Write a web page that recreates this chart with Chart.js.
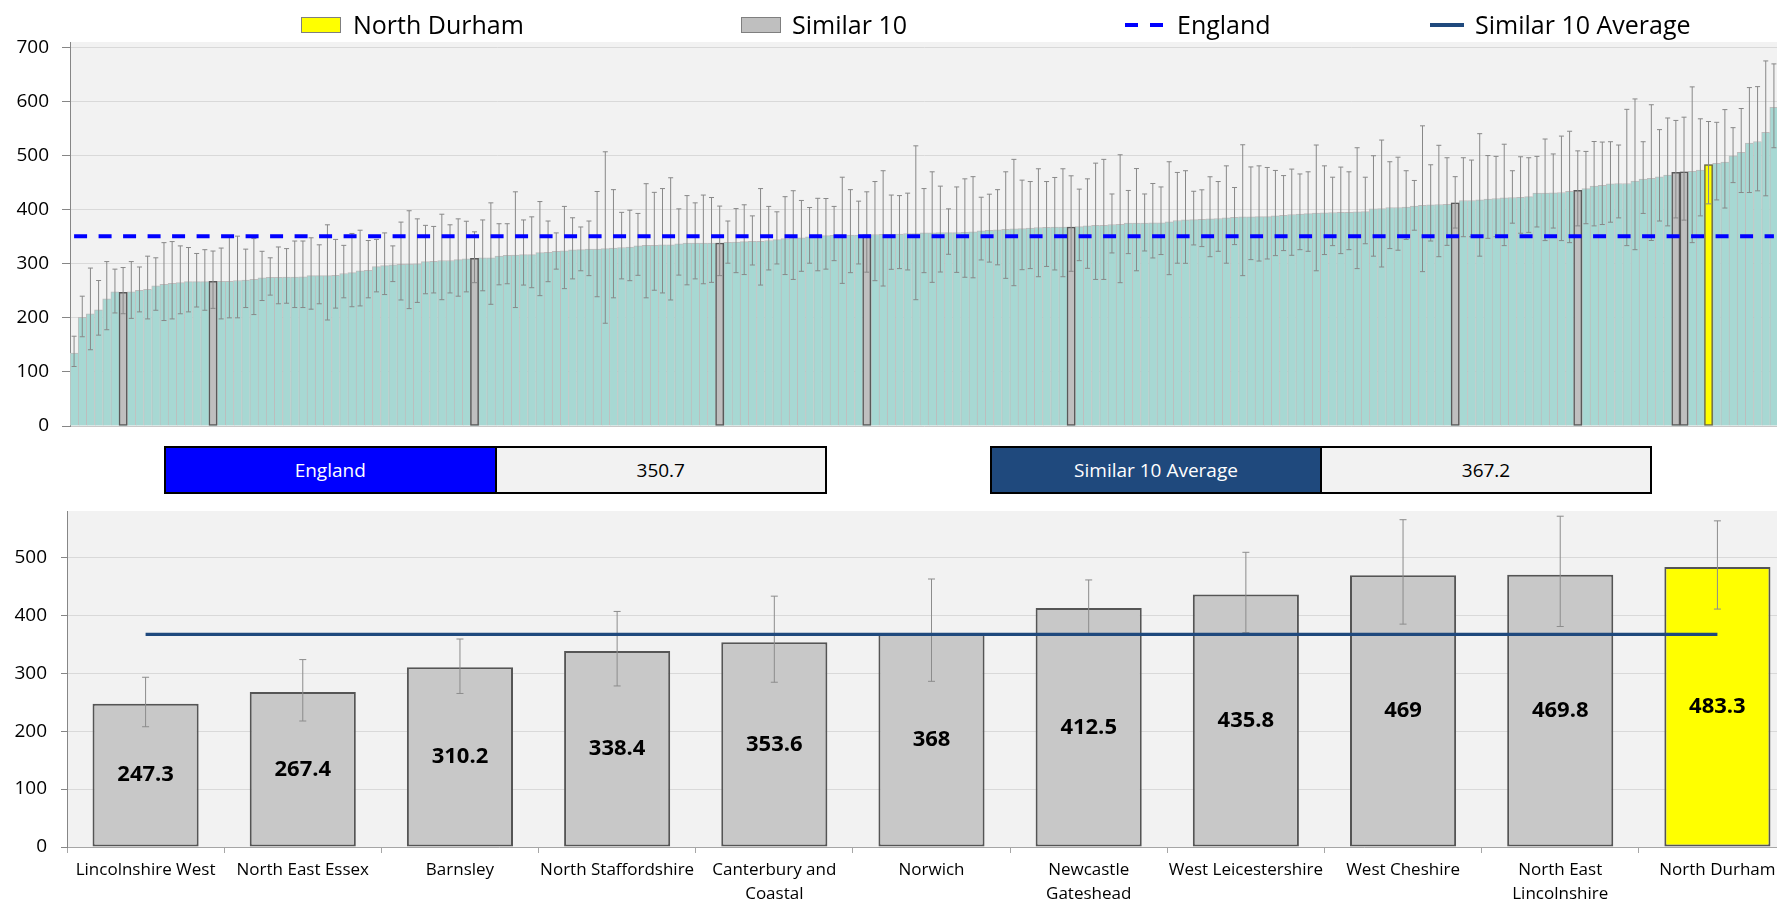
<!DOCTYPE html>
<html>
<head>
<meta charset="utf-8">
<script src="https://cdn.jsdelivr.net/npm/chart.js@4.4.0/dist/chart.umd.min.js"></script>
<style>
  html, body { margin: 0; padding: 0; background: #fff; overflow: hidden; width: 1777px; height: 902px; }
  body { position: relative; font-family: "Open Sans", sans-serif; color: #000; }
  #topWrap { position: absolute; left: 0; top: 0; width: 1778px; height: 446px; }
  #bottomWrap { position: absolute; left: 0; top: 500px; width: 1796px; height: 402px; }
  .lg-text { position: absolute; top: 7px; font-size: 25px; line-height: 34px; white-space: nowrap; }
  .lg-box { position: absolute; top: 17px; width: 40px; height: 16px; box-sizing: border-box; border: 1px solid #7f7f7f; }
  .lg-line { position: absolute; top: 23px; height: 4px; }
  .vbox { position: absolute; top: 446px; height: 48px; box-sizing: border-box; border: 2px solid #000; display: flex; }
  .vbox div { flex: 1; display: flex; align-items: center; justify-content: center; font-size: 19px; }
  .vbox .name { color: #fff; border-right: 2px solid #000; }
  .vbox .val { background: #f2f2f2; }
</style>
</head>
<body>
<div id="topWrap"><canvas id="rankChart"></canvas></div>
<div id="bottomWrap"><canvas id="similarChart"></canvas></div>

<div class="lg-box" style="left:301px; background:#ffff00;"></div>
<div class="lg-text" style="left:353px;">North Durham</div>
<div class="lg-box" style="left:741px; background:#bfbfbf;"></div>
<div class="lg-text" style="left:792px;">Similar 10</div>
<div class="lg-line" style="left:1125px; width:13px; background:#0000ff;"></div>
<div class="lg-line" style="left:1150px; width:13px; background:#0000ff;"></div>
<div class="lg-text" style="left:1177px;">England</div>
<div class="lg-line" style="left:1430px; width:34px; background:#1f497d;"></div>
<div class="lg-text" style="left:1475px;">Similar 10 Average</div>

<div class="vbox" style="left:164px; width:663px;">
  <div class="name" style="background:#0000ff;">England</div>
  <div class="val" id="englandVal"></div>
</div>
<div class="vbox" style="left:990px; width:662px;">
  <div class="name" style="background:#1f497d;">Similar 10 Average</div>
  <div class="val" id="similarVal"></div>
</div>

<script>
// all CCGs, sorted by rate
const allValues = [
  135, 200.7, 207.5, 215, 235, 248, 247.3, 248, 251, 252.6, 259, 262, 264, 265, 267, 267, 267, 267.4, 267.5, 267.5,
  269, 270, 271, 274, 275, 275, 275.5, 275.5, 276, 278, 278, 278, 278.5, 282, 283.5, 287, 288, 294.6, 296.5, 298,
  299, 299.6, 300, 304, 304.5, 306, 306, 307.6, 309, 310.2, 311, 311, 314, 315.6, 316, 317, 317, 320.6, 321, 323,
  324, 325.5, 326, 327, 327, 328, 329, 330, 331, 333, 334, 334, 335, 335, 337, 338, 338, 338, 338.2, 338.4,
  339.7, 340, 341, 341.6, 341.6, 343, 344.7, 346.5, 347.7, 348, 349.6, 351, 352, 352.7, 353, 353, 353.2, 353.6, 354, 354.5,
  354.5, 355, 356, 356, 357, 357, 357.6, 357.6, 357.6, 358, 359, 361, 362, 362.6, 363.8, 364.4, 365, 366, 367, 367.5,
  367.6, 367.8, 368, 368.7, 370, 371, 371, 372.5, 373, 375, 375, 375, 375.5, 375.5, 377.4, 380, 381, 381.7, 382, 383,
  383.6, 384.8, 386, 386.7, 386.7, 387, 387, 388.5, 389.7, 391, 392, 392.8, 393.5, 394, 394.7, 395, 395, 396, 396.5, 401.5,
  402, 404, 404, 405, 406.4, 408, 409, 409.5, 410, 412.5, 417, 417, 418, 419.4, 420.6, 421.9, 422.5, 423, 424, 430.5,
  430.5, 431, 431.7, 434, 435.8, 439, 443.5, 445, 447.8, 448.4, 448.4, 453, 456.5, 458, 460.8, 463.9, 469, 469.8, 471, 473,
  483.3, 485.5, 488, 499.7, 506, 523, 526, 543, 589
];
const allLower = [
  110, 165, 141, 168, 178, 209, 207.6, 199, 211, 198, 214, 195, 198, 207.5, 211, 220, 214, 217.5, 198, 200,
  200, 219, 206, 232, 242, 226, 227, 219, 219, 216, 226, 196, 218, 237, 220.5, 222, 237, 248, 243, 267,
  233, 217, 228.5, 244.5, 246, 233.5, 246, 240, 248, 265, 250, 225, 261, 263, 219, 260.6, 255.7, 241, 266.8, 290,
  254, 272, 287, 278, 239, 190, 237, 272, 268.7, 278.6, 237, 251, 246, 233, 279, 261, 272, 263, 265.6, 278,
  301, 283.5, 280, 297.7, 260.6, 288.5, 299.6, 280, 271, 286, 301, 287, 290, 305.7, 263.7, 283.5, 299.6, 284.4, 268.7, 258.8,
  289.7, 291, 288.5, 233.5, 283.5, 265.6, 284.7, 317.5, 284, 275, 274, 307, 303, 298, 273, 259.4, 289, 291, 276, 295,
  288.5, 276, 286, 305.7, 291.5, 271, 271, 320, 265, 318.7, 287, 323.6, 310.7, 317, 279.8, 301, 300.8, 334.8, 331.7, 313,
  323, 301, 335.4, 278, 307.6, 305, 308.8, 315, 324.3, 315.6, 326, 323, 287, 317, 333.5, 318.7, 326, 291, 337, 314,
  294, 328, 325, 345, 362, 285.4, 342, 313, 334, 366, 350, 350, 314, 347, 350, 333.5, 375, 356.4, 358, 368,
  342.8, 366, 342.8, 339, 370, 374, 370, 372.5, 376.8, 384.8, 333.5, 326, 393, 343, 379, 370, 384.7, 380.6, 339, 388.5,
  410.7, 418, 403, 450, 431.7, 431.7, 434.8, 425.6, 514.5
];
const allUpper = [
  166, 240, 292, 269, 304, 290, 293, 304, 294, 314, 311, 339, 341, 333, 330, 319, 326, 323.5, 329, 351,
  351, 327, 346.5, 323, 311, 331, 328, 342, 342, 348, 335, 372, 345, 334, 356, 362, 343, 345, 357, 333,
  377, 398, 383, 371, 369, 391.6, 372, 383, 378.6, 359, 381, 412.6, 374, 374, 433, 381, 386.7, 415, 379, 357,
  406, 385, 368, 379, 433.6, 507, 437, 395, 399, 393, 448, 432, 439, 459, 401.5, 426, 412.6, 427, 422.5, 406.6,
  379, 402, 409, 388.5, 439, 406, 396, 424, 435, 417, 404, 421, 420.6, 406, 460, 437, 415.7, 433, 452, 472,
  427, 426, 430.5, 518, 439, 470, 443.5, 401.5, 442, 457, 461, 423, 428.6, 437, 470, 493, 454.6, 452, 475.6, 452,
  459.5, 475.6, 462.6, 438, 457, 486, 493, 429, 501.5, 435.5, 476, 429, 448.4, 442, 488.6, 468.8, 472, 434, 436.7, 460.8,
  452, 481, 441, 520, 479, 481, 478, 472.5, 463, 475, 466, 470, 519.5, 481, 460, 478.7, 470, 514.5, 460, 499.7,
  528.7, 488.6, 497, 472, 454, 555, 483, 519, 496, 461, 496, 491.7, 540.5, 500, 498.5, 521, 472, 497.8, 496, 498.5,
  530.6, 503, 536, 545, 508.7, 507.7, 526, 525, 525.6, 519.5, 585.5, 604.7, 525.6, 594, 548, 569.5, 565, 571, 627, 568,
  563, 561.5, 585, 551.6, 587, 625.7, 627.5, 675, 669.5
];
const rankTicks = [0, 100, 200, 300, 400, 500, 600, 700];

// the similar 10 plus North Durham
const similarLabels = ['Lincolnshire West', 'North East Essex', 'Barnsley', 'North Staffordshire',
  ['Canterbury and', 'Coastal'], 'Norwich', ['Newcastle', 'Gateshead'], 'West Leicestershire',
  'West Cheshire', ['North East', 'Lincolnshire'], 'North Durham'];
const similarValues = [247.3, 267.4, 310.2, 338.4, 353.6, 368, 412.5, 435.8, 469, 469.8, 483.3];
const similarLower = [207.6, 217.5, 265, 278, 284.4, 286, 366, 370, 384.7, 380.6, 410.7];
const similarUpper = [293, 323.5, 359, 406.6, 433, 462.6, 461, 508.7, 565, 571, 563];
const similarRanks = [6, 17, 49, 79, 97, 122, 169, 184, 196, 197, 200];
const similarTicks = [0, 100, 200, 300, 400, 500];

const homeName = 'North Durham';
const englandValue = 350.7;
const similarAverage = 367.2;

document.getElementById('englandVal').textContent = englandValue.toFixed(1);
document.getElementById('similarVal').textContent = similarAverage.toFixed(1);

const FONT = '"Open Sans", sans-serif';
const homeIdx = similarLabels.indexOf(homeName);

const plotBg = {
  id: 'plotBg',
  beforeDraw(chart) {
    const a = chart.chartArea;
    chart.ctx.save();
    chart.ctx.fillStyle = '#f2f2f2';
    chart.ctx.fillRect(a.left, a.top, a.right - a.left, a.bottom - a.top);
    chart.ctx.restore();
  }
};

// error bars, drawn right after a given dataset
const errorBars = {
  id: 'errorBars',
  afterDatasetDraw(chart, args, opts) {
    if (args.index !== opts.after) return;
    const ys = chart.scales.y;
    const ctx = chart.ctx;
    const meta = chart.getDatasetMeta(opts.source);
    ctx.save();
    ctx.strokeStyle = opts.color;
    ctx.lineWidth = 1;
    meta.data.forEach((bar, i) => {
      const lo = opts.lower[i], hi = opts.upper[i];
      if (lo == null || hi == null) return;
      const y1 = ys.getPixelForValue(lo), y2 = ys.getPixelForValue(hi);
      const c = opts.cap / 2;
      ctx.beginPath();
      ctx.moveTo(bar.x, y1); ctx.lineTo(bar.x, y2);
      ctx.moveTo(bar.x - c, y1); ctx.lineTo(bar.x + c, y1);
      ctx.moveTo(bar.x - c, y2); ctx.lineTo(bar.x + c, y2);
      ctx.stroke();
    });
    ctx.restore();
  }
};

const valueLabels = {
  id: 'valueLabels',
  afterDatasetsDraw(chart) {
    const ctx = chart.ctx;
    const meta = chart.getDatasetMeta(0);
    ctx.save();
    ctx.font = 'bold 22px ' + FONT;
    ctx.fillStyle = '#000';
    ctx.textAlign = 'center';
    ctx.textBaseline = 'middle';
    meta.data.forEach((bar, i) => {
      ctx.fillText(String(similarValues[i]), bar.x, (bar.y + bar.base) / 2);
    });
    ctx.restore();
  }
};

/* ------------------------------ ranking chart ------------------------------ */
const rankLabels = allValues.map((v, i) => String(i + 1));
const highlight = allValues.map(() => null);
const highlightColors = allValues.map(() => '#bfbfbf');
const highlightBorders = allValues.map(() => '#595959');
similarRanks.forEach((r, j) => {
  highlight[r] = similarValues[j];
  if (j === homeIdx) {
    highlightColors[r] = '#ffff00';
    highlightBorders[r] = '#6b6b45';
  }
});

new Chart(document.getElementById('rankChart'), {
  type: 'bar',
  data: {
    labels: rankLabels,
    datasets: [
      {
        data: allValues,
        backgroundColor: '#a7d8d3',
        borderColor: '#bdbdbd',
        borderWidth: { top: 1, left: 1, right: 0, bottom: 0 },
        barPercentage: 1,
        categoryPercentage: 1,
        grouped: false,
        order: 2
      },
      {
        data: highlight,
        backgroundColor: highlightColors,
        borderColor: highlightBorders,
        borderWidth: 1.5,
        borderSkipped: false,
        barPercentage: 1,
        categoryPercentage: 1,
        grouped: false,
        order: 1
      },
      {
        type: 'line',
        data: rankLabels.map(() => englandValue),
        borderColor: '#0000ff',
        borderWidth: 4,
        borderDash: [13, 11.5],
        pointRadius: 0,
        order: 0
      }
    ]
  },
  options: {
    responsive: true,
    maintainAspectRatio: false,
    animation: false,
    layout: { padding: { top: 42, right: 0, left: 0, bottom: 0 } },
    plugins: {
      legend: { display: false },
      tooltip: { enabled: false },
      errorBars: { after: 1, source: 0, lower: allLower, upper: allUpper, color: '#888', cap: 5 }
    },
    scales: {
      x: {
        grid: { display: false },
        ticks: { display: false },
        border: { color: '#c8c8c8' },
        afterFit: s => { s.height = 20; s.paddingLeft = 0; s.paddingRight = 0; }
      },
      y: {
        min: 0,
        max: 710,
        ticks: { padding: 13, color: '#000', font: { family: FONT, size: 19 } },
        grid: { color: '#d9d9d9', tickColor: '#868686', tickLength: 8 },
        border: { color: '#868686' },
        afterBuildTicks: s => { s.ticks = rankTicks.map(v => ({ value: v })); },
        afterFit: s => { s.width = 70; s.paddingTop = 0; s.paddingBottom = 0; }
      }
    }
  },
  plugins: [plotBg, errorBars]
});

/* ----------------------------- similar 10 chart ---------------------------- */
new Chart(document.getElementById('similarChart'), {
  type: 'bar',
  data: {
    labels: similarLabels,
    datasets: [
      {
        data: similarValues,
        backgroundColor: similarLabels.map((l, i) => i === homeIdx ? '#ffff00' : '#c8c8c8'),
        borderColor: '#555555',
        borderWidth: 2,
        borderSkipped: false,
        barPercentage: 0.675,
        categoryPercentage: 1,
        order: 1
      },
      {
        type: 'line',
        data: similarLabels.map(() => similarAverage),
        borderColor: '#1f497d',
        borderWidth: 3.3,
        pointRadius: 0,
        order: 0
      }
    ]
  },
  options: {
    responsive: true,
    maintainAspectRatio: false,
    animation: false,
    layout: { padding: { top: 11, right: 0, left: 0, bottom: 0 } },
    plugins: {
      legend: { display: false },
      tooltip: { enabled: false },
      errorBars: { after: 0, source: 0, lower: similarLower, upper: similarUpper, color: '#8c8c8c', cap: 7 }
    },
    scales: {
      x: {
        grid: { drawOnChartArea: false, tickColor: '#a6a6a6', tickLength: 6 },
        border: { color: '#a6a6a6' },
        ticks: { padding: 5, color: '#000', maxRotation: 0, autoSkip: false,
          font: { family: FONT, size: 17, lineHeight: 1.42 } },
        afterFit: s => { s.height = 55; s.paddingLeft = 0; s.paddingRight = 0; }
      },
      y: {
        min: 0,
        max: 580,
        ticks: { padding: 14, color: '#000', font: { family: FONT, size: 19 } },
        grid: { color: '#d9d9d9', tickColor: '#868686', tickLength: 6 },
        border: { color: '#868686' },
        afterBuildTicks: s => { s.ticks = similarTicks.map(v => ({ value: v })); },
        afterFit: s => { s.width = 67; s.paddingTop = 0; s.paddingBottom = 0; }
      }
    }
  },
  plugins: [plotBg, errorBars, valueLabels]
});
</script>
</body>
</html>
